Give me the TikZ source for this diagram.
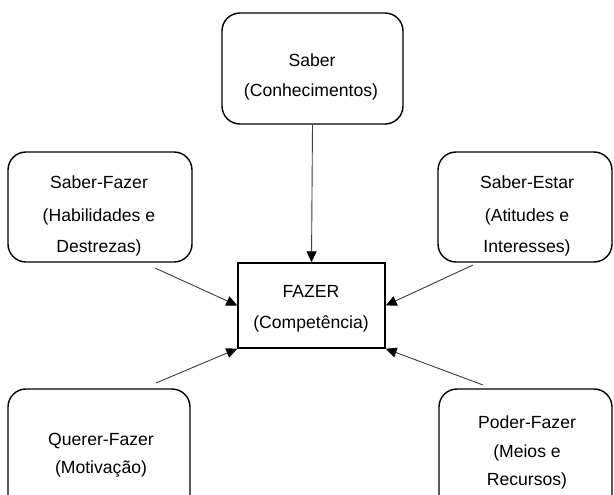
\documentclass[tikz,border=0pt]{standalone}
\usepackage{fontspec}
\setmainfont{Liberation Sans}
\usetikzlibrary{arrows.meta}
\tikzset{
  boxr/.style={draw=black, line width=1.4pt, rounded corners=18pt, inner sep=0pt},
  boxs/.style={draw=black, line width=1.4pt, inner sep=0pt},
  lbl/.style={anchor=base, inner sep=0pt, font=\fontsize{17.6}{20}\selectfont},
  conn/.style={draw={rgb,255:red,60;green,60;blue,60}, line width=0.9pt,
    -{Triangle[length=11pt,width=10pt,color=black,fill=black]}}
}
\begin{document}
\begin{tikzpicture}[x=1pt,y=-1pt]
\useasboundingbox (0,0) rectangle (614,495);
\clip (0,0) rectangle (614,495);
% boxes
\node[boxr, minimum width=181pt, minimum height=111pt] (saber) at (312.5,68.5) {};
\node[boxr, minimum width=184pt, minimum height=110pt] (sf) at (100,207) {};
\node[boxr, minimum width=174pt, minimum height=110pt] (se) at (525,207) {};
\node[boxs, minimum width=147pt, minimum height=85pt] (fazer) at (311.5,305.5) {};
\node[boxr, minimum width=182pt, minimum height=150pt] (qf) at (99,464) {};
\node[boxr, minimum width=173pt, minimum height=150pt] (pf) at (525.5,464) {};
% texts
\node[lbl] (t1) at (312,67) {Saber};
\node[lbl] (t2) at (311,97) {(Conhecimentos)};
\node[lbl] (t3) at (99,188) {Saber-Fazer};
\node[lbl] (t4) at (99,222) {(Habilidades e};
\node[lbl] (t5) at (99,252) {Destrezas)};
\node[lbl] (t6) at (527,188) {Saber-Estar};
\node[lbl] (t7) at (527,222) {(Atitudes e};
\node[lbl] (t8) at (527,252) {Interesses)};
\node[lbl] (t9) at (311,297) {FAZER};
\node[lbl] (t10) at (311,328) {(Competência)};
\node[lbl] (t11) at (101,445) {Querer-Fazer};
\node[lbl] (t12) at (101,473) {(Motivação)};
\node[lbl] (t13) at (527,428) {Poder-Fazer};
\node[lbl] (t14) at (527,457) {(Meios e};
\node[lbl] (t15) at (527,485) {Recursos)};
% connector start points
\coordinate (sfOut) at (155,268);
\coordinate (seOut) at (473,265);
\coordinate (qfOut) at (156,383);
\coordinate (pfOut) at (483,385);
% connectors
\draw[conn] (saber.south) -- (fazer.north);
\draw[conn] (sfOut) -- (fazer.west);
\draw[conn] (seOut) -- (fazer.east);
\draw[conn] (qfOut) -- (fazer.south west);
\draw[conn] (pfOut) -- (fazer.south east);
\end{tikzpicture}
\end{document}
